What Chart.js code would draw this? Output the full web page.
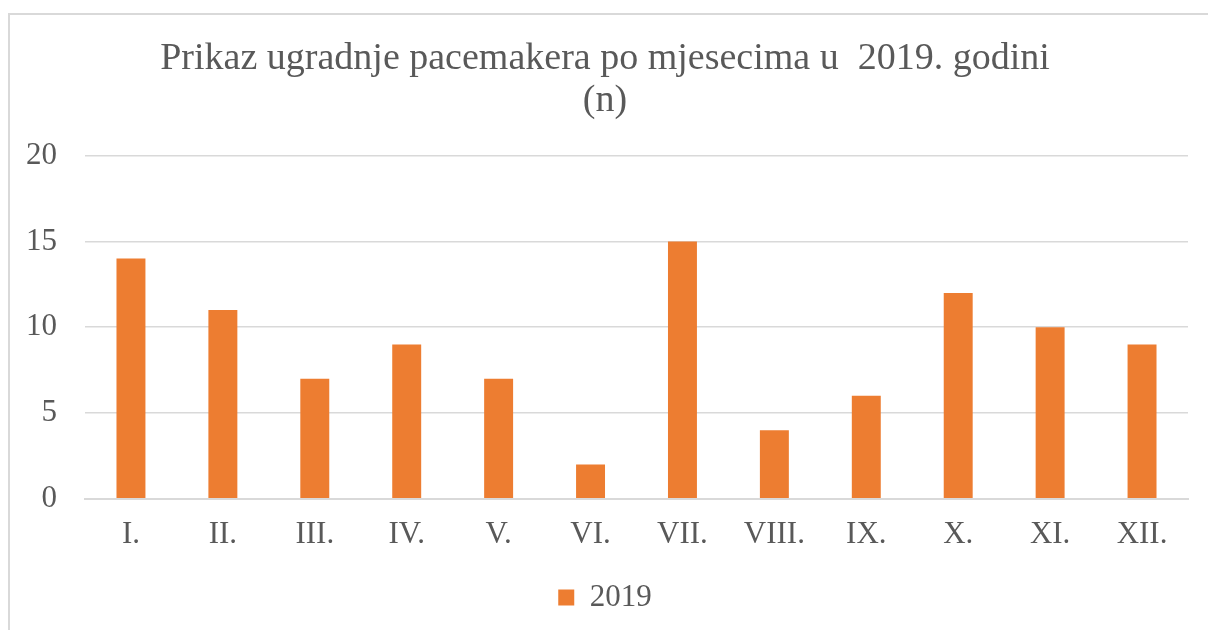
<!DOCTYPE html>
<html>
<head>
<meta charset="utf-8">
<script src="https://cdn.jsdelivr.net/npm/chart.js@4/dist/chart.umd.min.js"></script>
<style>
  body { margin: 0; background: #fff; overflow: hidden; }
  #frame { position: absolute; left: 8px; top: 13px; width: 1400px; height: 800px;
           border-left: 2px solid #d9d9d9; border-top: 2px solid #d9d9d9; }
  #wrap { position: absolute; left: 0; top: 0; width: 1208px; height: 630px; }
</style>
</head>
<body>
<div id="frame"></div>
<div id="wrap"><canvas id="myBarChart"></canvas></div>
<script>
var months = ["I.", "II.", "III.", "IV.", "V.", "VI.", "VII.", "VIII.", "IX.", "X.", "XI.", "XII."];
var values2019 = [14, 11, 7, 9, 7, 2, 15, 4, 6, 12, 10, 9];
var yTicks = [0, 5, 10, 15, 20];

var font = "'Liberation Serif', 'Times New Roman', serif";
var grey = "#595959";

var ctx = document.getElementById("myBarChart");

var myChart = new Chart(ctx, {
  type: 'bar',
  data: {
    labels: months,
    datasets: [
      {
        label: "2019",
        backgroundColor: "#ED7D31",
        data: values2019,
        barPercentage: 0.315,
        categoryPercentage: 1
      }
    ]
  },
  options: {
    responsive: true,
    maintainAspectRatio: false,
    animation: false,
    layout: {
      padding: { left: 22, right: 20, top: 0, bottom: 7 }
    },
    plugins: {
      title: {
        display: true,
        text: ["Prikaz ugradnje pacemakera po mjesecima u  2019. godini", "(n)"],
        color: grey,
        font: { family: font, size: 38, weight: 'normal', lineHeight: 1.1 },
        padding: { top: 38, bottom: 34 }
      },
      legend: {
        position: 'bottom',
        labels: {
          color: grey,
          boxWidth: 16,
          boxHeight: 16,
          font: { family: font, size: 31 },
          padding: 12
        }
      },
      tooltip: { enabled: false }
    },
    scales: {
      x: {
        grid: { display: false, drawTicks: false },
        border: { color: "#d9d9d9", width: 2 },
        ticks: { color: grey, font: { family: font, size: 31, lineHeight: 1.07 }, padding: 19 }
      },
      y: {
        min: 0,
        max: 20,
        afterFit: function (scale) { scale.width = 63; },
        afterBuildTicks: function (scale) {
          scale.ticks = yTicks.map(function (v) { return { value: v }; });
        },
        grid: { color: "#d9d9d9", lineWidth: 1.5, drawTicks: false },
        border: { display: false },
        ticks: { color: grey, font: { family: font, size: 31 }, padding: 28 }
      }
    }
  }
});
</script>
</body>
</html>
